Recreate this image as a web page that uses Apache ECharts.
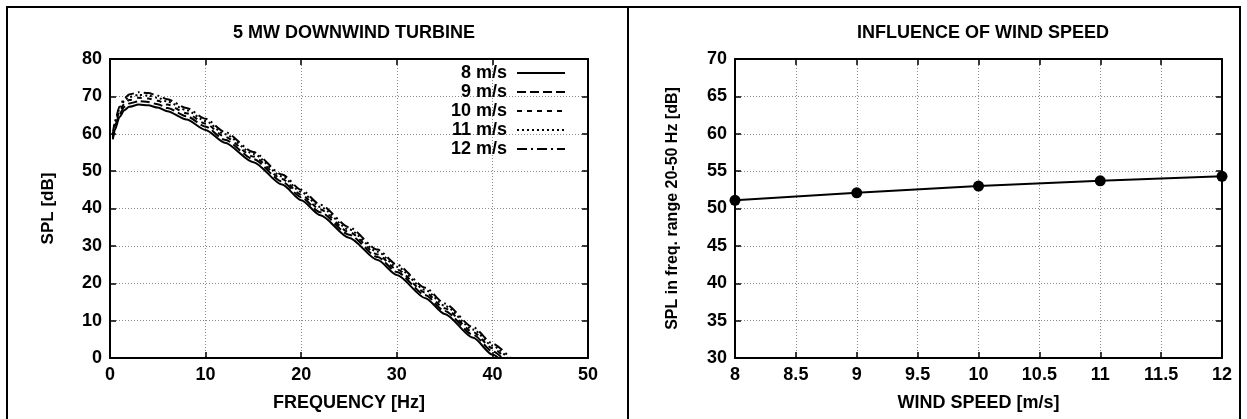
<!DOCTYPE html>
<html>
<head>
<meta charset="utf-8">
<script src="https://cdn.jsdelivr.net/npm/echarts@6/dist/echarts.min.js"></script>
<style>
  html, body { margin: 0; padding: 0; background: #fff; }
  #chart { width: 1247px; height: 419px; }
</style>
</head>
<body>
<div id="chart"></div>
<script>
// Spectrum of the 5 MW downwind turbine, one curve per hub wind speed
const freqHz = [0.3, 0.5, 1, 1.5, 2, 3, 4, 5, 6, 8, 10, 12, 15, 18, 20, 22, 25, 28, 30, 33, 35, 38, 40, 42];
const spl8  = [58.5, 61.0, 64.5, 66.3, 67.2, 67.8, 67.6, 67.0, 66.0, 63.8, 61.0, 57.6, 52.4, 46.4, 42.2, 38.2, 32.2, 26.2, 22.2, 16.0, 11.8, 5.4, 0.9, -3.5];
const spl9  = [58.8, 61.6, 65.3, 67.2, 68.1, 68.7, 68.5, 67.9, 66.9, 64.7, 61.9, 58.4, 53.2, 47.2, 43.0, 39.0, 33.0, 27.0, 23.0, 16.8, 12.6, 6.2, 1.8, -2.6];
const spl10 = [59.1, 62.2, 66.0, 68.0, 69.0, 69.6, 69.4, 68.8, 67.8, 65.5, 62.7, 59.2, 53.9, 47.9, 43.7, 39.7, 33.7, 27.7, 23.7, 17.5, 13.3, 6.9, 2.6, -1.8];
const spl11 = [59.4, 62.8, 66.7, 68.8, 69.8, 70.4, 70.2, 69.6, 68.6, 66.3, 63.4, 59.9, 54.6, 48.6, 44.4, 40.4, 34.4, 28.4, 24.4, 18.2, 14.0, 7.6, 3.3, -1.1];
const spl12 = [59.7, 63.3, 67.3, 69.5, 70.5, 71.1, 70.9, 70.2, 69.2, 66.9, 64.0, 60.5, 55.1, 49.1, 45.0, 41.0, 35.0, 29.0, 25.0, 18.8, 14.6, 8.2, 3.9, -0.4];
const speedNames = ['8 m/s', '9 m/s', '10 m/s', '11 m/s', '12 m/s'];

// Band level (20-50 Hz) against wind speed
const windSpeed = [8, 9, 10, 11, 12];
const splBand = [51.1, 52.1, 53.0, 53.7, 54.3];

const FONT = 'Liberation Sans';
const black = '#000';
const FS = 18;
const labelStyle = { color: black, fontFamily: FONT, fontWeight: 'bold', fontSize: FS };
const nameStyle = (size) => ({ color: black, fontFamily: FONT, fontWeight: 'bold', fontSize: size });
const gridLine = { show: true, lineStyle: { color: '#8a8a8a', type: [1, 2], width: 1 } };
const axisLine = { show: true, onZero: false, lineStyle: { color: black, width: 2 } };
const tick = { show: true, inside: true, length: 6, lineStyle: { color: black, width: 1.5 } };

function mainAxis(gridIndex, min, max, interval, name, nameGap, nameSize, extra) {
  return Object.assign({
    type: 'value', gridIndex, min, max, interval,
    name, nameLocation: 'middle', nameGap, nameTextStyle: nameStyle(nameSize),
    axisLine, axisTick: tick, splitLine: gridLine,
    axisLabel: Object.assign({ margin: 8 }, labelStyle)
  }, extra || {});
}
function mirrorAxis(gridIndex, min, max, interval, position) {
  return {
    type: 'value', gridIndex, min, max, interval, position,
    axisLine, axisTick: tick, splitLine: { show: false }, axisLabel: { show: false }
  };
}

const dashes = ['solid', [9, 4], [5, 5], [2, 3], [10, 4, 2, 4]];
const curves = [spl8, spl9, spl10, spl11, spl12];

const spectrumSeries = curves.map((vals, k) => ({
  name: speedNames[k],
  type: 'line',
  xAxisIndex: 0, yAxisIndex: 0,
  data: freqHz.map((f, i) => [f, vals[i]]),
  symbol: 'none',
  smooth: 0.25,
  smoothMonotone: 'x',
  clip: true,
  lineStyle: { color: black, width: 2, type: dashes[k] },
  itemStyle: { color: black },
  z: 3
}));

const chart = echarts.init(document.getElementById('chart'), null, { renderer: 'canvas' });
chart.setOption({
  animation: false,
  backgroundColor: '#fff',
  title: [
    { text: '5 MW DOWNWIND TURBINE', left: 349, top: 19, textAlign: 'center',
      textStyle: { color: black, fontFamily: FONT, fontWeight: 'bold', fontSize: FS } },
    { text: 'INFLUENCE OF WIND SPEED', left: 978, top: 19, textAlign: 'center',
      textStyle: { color: black, fontFamily: FONT, fontWeight: 'bold', fontSize: FS } }
  ],
  legend: {
    data: speedNames,
    orient: 'vertical',
    align: 'right',
    right: 681, top: 64,
    padding: 0,
    itemWidth: 48, itemHeight: 14, itemGap: 1,
    itemStyle: { color: 'transparent', borderColor: 'transparent', borderWidth: 0, opacity: 0 },
    textStyle: { color: black, fontFamily: FONT, fontWeight: 'bold', fontSize: FS, lineHeight: 14, padding: [0, 5, 0, 0] },
    selectedMode: false
  },
  grid: [
    { left: 110, top: 59, width: 478, height: 299 },
    { left: 735, top: 59, width: 487, height: 299 }
  ],
  xAxis: [
    mainAxis(0, 0, 50, 10, 'FREQUENCY [Hz]', 36, FS, { position: 'bottom' }),
    mirrorAxis(0, 0, 50, 10, 'top'),
    mainAxis(1, 8, 12, 0.5, 'WIND SPEED [m/s]', 36, FS, { position: 'bottom' }),
    mirrorAxis(1, 8, 12, 0.5, 'top')
  ],
  yAxis: [
    mainAxis(0, 0, 80, 10, 'SPL [dB]', 53, 17, { position: 'left' }),
    mirrorAxis(0, 0, 80, 10, 'right'),
    mainAxis(1, 30, 70, 5, 'SPL in freq. range 20-50 Hz [dB]', 54, 16, { position: 'left' }),
    mirrorAxis(1, 30, 70, 5, 'right')
  ],
  graphic: [
    { type: 'rect', shape: { x: 7, y: 7, width: 621, height: 440 },
      style: { fill: 'none', stroke: black, lineWidth: 2 }, silent: true },
    { type: 'rect', shape: { x: 628, y: 7, width: 612, height: 440 },
      style: { fill: 'none', stroke: black, lineWidth: 2 }, silent: true }
  ],
  series: spectrumSeries.concat([{
    type: 'line',
    xAxisIndex: 2, yAxisIndex: 2,
    data: windSpeed.map((w, i) => [w, splBand[i]]),
    symbol: 'circle', symbolSize: 11,
    clip: false,
    lineStyle: { color: black, width: 2 },
    itemStyle: { color: black },
    z: 3
  }])
});
</script>
</body>
</html>
